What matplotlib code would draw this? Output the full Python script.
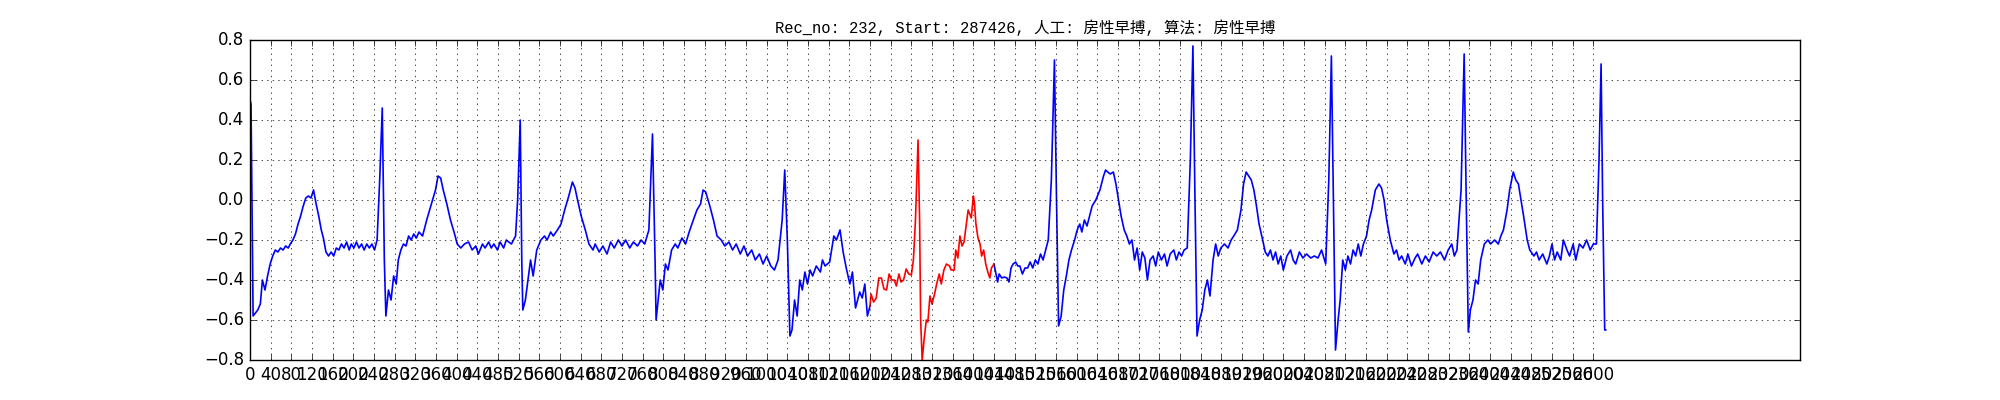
import matplotlib
matplotlib.use("Agg")
import matplotlib.pyplot as plt
import numpy as np

plt.style.use("classic")

# ECG trace (sample index, amplitude)
beat_idx = [0, 2, 6, 15, 20, 24, 29, 34, 39, 44, 49, 54, 59, 64, 69, 74, 78, 83, 88, 93, 98, 103, 108, 113, 118, 123,
            128, 133, 138, 142, 147, 152, 157, 162, 167, 172, 177, 182, 187, 192, 196, 201, 206, 211, 216, 221, 226,
            231, 236, 241, 246, 251, 256, 260, 263,
            268, 273, 278, 283, 287, 292, 297, 302, 307, 312, 317, 322, 327, 334, 342, 351, 359, 364, 369, 374, 381,
            388, 396, 401, 408, 415, 423, 430, 437, 442, 450, 455, 462, 467, 472, 479, 484, 491, 496, 506, 514, 518,
            523, 526, 528,
            533, 538, 543, 548, 555, 563, 570, 575, 582, 587, 595, 602, 609, 617, 624, 629, 634, 641, 649, 656, 664,
            668, 676, 683, 691, 698, 705, 713, 720, 727, 735, 742, 750, 757, 764, 772, 779, 784, 786,
            794, 799, 804, 809, 816, 823, 828, 836, 843, 850, 858, 865, 872, 877, 882, 890, 897, 904, 912, 919, 927,
            934, 941, 949, 956, 963, 971, 978, 986, 993, 1000, 1008, 1015, 1022, 1030, 1035, 1040, 1045,
            1049, 1054, 1059, 1064, 1069, 1074, 1079, 1084, 1089, 1096, 1104, 1108, 1113, 1122, 1130, 1135, 1142,
            1148, 1154, 1161, 1166, 1172, 1180, 1185, 1190, 1195, 1200,
            1202, 1207, 1212, 1217, 1222, 1227, 1232, 1237, 1242, 1247, 1251, 1256, 1260, 1265, 1270, 1275, 1280,
            1284, 1288, 1293, 1296, 1298, 1301, 1305, 1309, 1312, 1316, 1320, 1325, 1329, 1334, 1338, 1343, 1348,
            1354, 1357, 1363, 1366, 1370, 1374, 1378, 1382, 1386, 1390, 1393, 1396, 1400, 1402, 1405, 1409, 1413,
            1416, 1420, 1424, 1428, 1432, 1435, 1440,
            1444, 1447, 1450, 1455, 1460, 1465, 1469, 1473, 1477, 1482, 1486, 1490, 1495, 1500, 1505, 1510, 1515,
            1520, 1525, 1530, 1535, 1540, 1545, 1551, 1557, 1561, 1565,
            1570, 1575, 1580, 1585, 1590, 1596, 1601, 1606, 1610, 1615, 1620, 1625, 1630, 1637, 1645, 1652, 1656,
            1660, 1665, 1671, 1676, 1681, 1686, 1692, 1697, 1702, 1707, 1712, 1717, 1722, 1727, 1732, 1737, 1742,
            1748, 1753, 1758, 1764, 1770, 1775, 1781, 1788, 1793, 1798, 1803, 1808, 1814, 1820, 1825, 1829, 1833,
            1838, 1843, 1848, 1853, 1858, 1864, 1869, 1874, 1879, 1886, 1893, 1899, 1904, 1911, 1918, 1923, 1928,
            1933, 1938, 1943, 1948, 1953, 1960, 1965, 1970, 1975, 1980, 1985, 1990, 1995, 2000, 2007, 2014, 2019,
            2024, 2031, 2038, 2045, 2053, 2060, 2067, 2074, 2082, 2088, 2093, 2097, 2101,
            2106, 2110, 2115, 2120, 2125, 2130, 2135, 2140, 2145, 2150, 2155, 2161, 2166, 2171, 2178, 2185, 2190,
            2195, 2200, 2207, 2214, 2219, 2224, 2229, 2236, 2241, 2248, 2255, 2260, 2268, 2275, 2282, 2290, 2297,
            2304, 2312, 2319, 2326, 2331, 2336, 2344, 2350, 2354, 2358,
            2362, 2367, 2372, 2377, 2382, 2389, 2396, 2401, 2409, 2416, 2421, 2426, 2433, 2438, 2445, 2450, 2455,
            2460, 2465, 2472, 2477, 2485, 2490, 2495, 2502, 2510, 2515, 2520, 2525, 2530, 2537, 2542, 2549, 2554,
            2561, 2566, 2573, 2580, 2587, 2594, 2600, 2606, 2611, 2615, 2618, 2622, 2624]

ecg = [0.50, 0.48, -0.58, -0.55, -0.52, -0.40, -0.45, -0.38, -0.32, -0.28, -0.25, -0.26, -0.24, -0.25, -0.23, -0.24,
       -0.22, -0.20, -0.17, -0.12, -0.08, -0.03, 0.01, 0.02, 0.01, 0.05, -0.02, -0.08, -0.15, -0.19, -0.26, -0.28,
       -0.26, -0.28, -0.24, -0.25, -0.22, -0.24, -0.21, -0.25, -0.22, -0.24, -0.21, -0.24, -0.22, -0.25, -0.22,
       -0.24, -0.22, -0.25, -0.20, 0.10, 0.46, -0.30, -0.58,
       -0.45, -0.50, -0.38, -0.42, -0.30, -0.25, -0.22, -0.23, -0.18, -0.20, -0.17, -0.19, -0.16, -0.18, -0.10,
       -0.02, 0.05, 0.12, 0.11, 0.05, -0.02, -0.10, -0.17, -0.22, -0.24, -0.22, -0.21, -0.25, -0.23, -0.27, -0.22,
       -0.24, -0.21, -0.24, -0.22, -0.25, -0.21, -0.24, -0.20, -0.22, -0.18, 0.00, 0.40, -0.30, -0.55,
       -0.50, -0.40, -0.30, -0.38, -0.25, -0.20, -0.18, -0.20, -0.16, -0.18, -0.15, -0.12, -0.05, 0.02, 0.09, 0.06,
       0.00, -0.08, -0.15, -0.22, -0.25, -0.22, -0.26, -0.23, -0.27, -0.21, -0.24, -0.20, -0.23, -0.20, -0.24,
       -0.21, -0.23, -0.20, -0.22, -0.15, 0.33, -0.30, -0.60,
       -0.40, -0.45, -0.32, -0.35, -0.25, -0.22, -0.24, -0.19, -0.22, -0.16, -0.10, -0.05, -0.02, 0.05, 0.04, -0.03,
       -0.10, -0.18, -0.20, -0.23, -0.21, -0.25, -0.22, -0.27, -0.23, -0.28, -0.25, -0.30, -0.27, -0.32, -0.28,
       -0.33, -0.35, -0.30, -0.10, 0.15, -0.20, -0.68,
       -0.65, -0.50, -0.58, -0.40, -0.45, -0.36, -0.42, -0.35, -0.38, -0.33, -0.36, -0.30, -0.33, -0.31, -0.18,
       -0.20, -0.15, -0.26, -0.34, -0.42, -0.36, -0.54, -0.46, -0.49, -0.42, -0.58, -0.53,
       -0.47, -0.51, -0.49, -0.39, -0.39, -0.445, -0.45, -0.37, -0.40, -0.40, -0.43, -0.37, -0.41, -0.40, -0.345,
       -0.37, -0.375, -0.30, -0.10, 0.30, -0.10, -0.60, -0.80, -0.69, -0.60, -0.61, -0.48, -0.52, -0.47, -0.42,
       -0.37, -0.42, -0.35, -0.32, -0.33, -0.35, -0.35, -0.25, -0.29, -0.18, -0.23, -0.21, -0.13, -0.05, -0.07,
       -0.09, 0.02, -0.01, -0.12, -0.19, -0.22, -0.28, -0.25, -0.32, -0.36, -0.39, -0.34, -0.32,
       -0.37, -0.41, -0.37, -0.39, -0.385, -0.39, -0.41, -0.34, -0.32, -0.31, -0.33, -0.33, -0.37, -0.34, -0.34,
       -0.31, -0.34, -0.30, -0.32, -0.27, -0.30, -0.25, -0.20, 0.10, 0.70, 0.00, -0.63,
       -0.58, -0.45, -0.38, -0.30, -0.25, -0.20, -0.15, -0.12, -0.16, -0.10, -0.13, -0.08, -0.03, 0.00, 0.05, 0.12,
       0.15, 0.14, 0.13, 0.14, 0.08, 0.00, -0.08, -0.15, -0.18, -0.22, -0.20, -0.30, -0.24, -0.35, -0.26, -0.29,
       -0.40, -0.30, -0.28, -0.33, -0.26, -0.30, -0.27, -0.33, -0.27, -0.25, -0.30, -0.26, -0.28, -0.25, -0.24,
       0.20, 0.77, 0.00, -0.68,
       -0.60, -0.55, -0.45, -0.40, -0.48, -0.30, -0.22, -0.28, -0.24, -0.22, -0.24, -0.20, -0.18, -0.15, -0.05,
       0.08, 0.14, 0.12, 0.10, 0.05, -0.03, -0.12, -0.20, -0.26, -0.28, -0.25, -0.30, -0.26, -0.32, -0.28, -0.35,
       -0.28, -0.25, -0.30, -0.32, -0.26, -0.29, -0.27, -0.29, -0.28, -0.29, -0.25, -0.32, 0.10, 0.72, 0.00, -0.75,
       -0.60, -0.50, -0.30, -0.35, -0.28, -0.32, -0.25, -0.28, -0.22, -0.28, -0.22, -0.18, -0.10, -0.05, 0.05,
       0.08, 0.06, 0.00, -0.10, -0.20, -0.27, -0.25, -0.30, -0.28, -0.32, -0.27, -0.33, -0.29, -0.27, -0.32, -0.28,
       -0.31, -0.26, -0.28, -0.26, -0.30, -0.25, -0.22, -0.28, -0.25, 0.05, 0.73, 0.00, -0.66,
       -0.55, -0.50, -0.40, -0.42, -0.30, -0.22, -0.20, -0.22, -0.20, -0.22, -0.18, -0.15, -0.05, 0.05, 0.14, 0.10,
       0.08, 0.00, -0.08, -0.20, -0.25, -0.28, -0.26, -0.30, -0.27, -0.32, -0.28, -0.22, -0.30, -0.26, -0.30,
       -0.20, -0.25, -0.28, -0.22, -0.30, -0.22, -0.24, -0.20, -0.25, -0.22, -0.22, 0.20, 0.68, 0.00, -0.65, -0.65]

# segment flagged by the algorithm (drawn red)
mark_start, mark_end = 1200, 1440
rec_no, start = 232, 287426
label_manual, label_algo = "房性早搏", "房性早搏"
xtick_pos = list(range(0, 2601, 40))

x = np.array(beat_idx)
y = np.array(ecg)
pre = x <= mark_start
mid = (x >= mark_start) & (x <= mark_end)
post = x >= mark_end

fig, ax = plt.subplots(figsize=(20, 4), dpi=100)
ax.plot(x[pre], y[pre], color="b", lw=1.2)
ax.plot(x[post], y[post], color="b", lw=1.2)
ax.plot(x[mid], y[mid], color="r", lw=1.2)
ax.set_xlim(0, 3000)
ax.set_ylim(-0.8, 0.8)
ax.set_xticks(xtick_pos)
ax.set_yticks(np.arange(-0.8, 0.81, 0.2))
ax.grid(True)
ax.set_title(f"Rec_no: {rec_no}, Start: {start}, 人工: {label_manual}, 算法: {label_algo}",
             fontsize=11.2, family=["Liberation Mono", "Noto Sans CJK SC"])
fig.savefig("out.png", dpi=100)
